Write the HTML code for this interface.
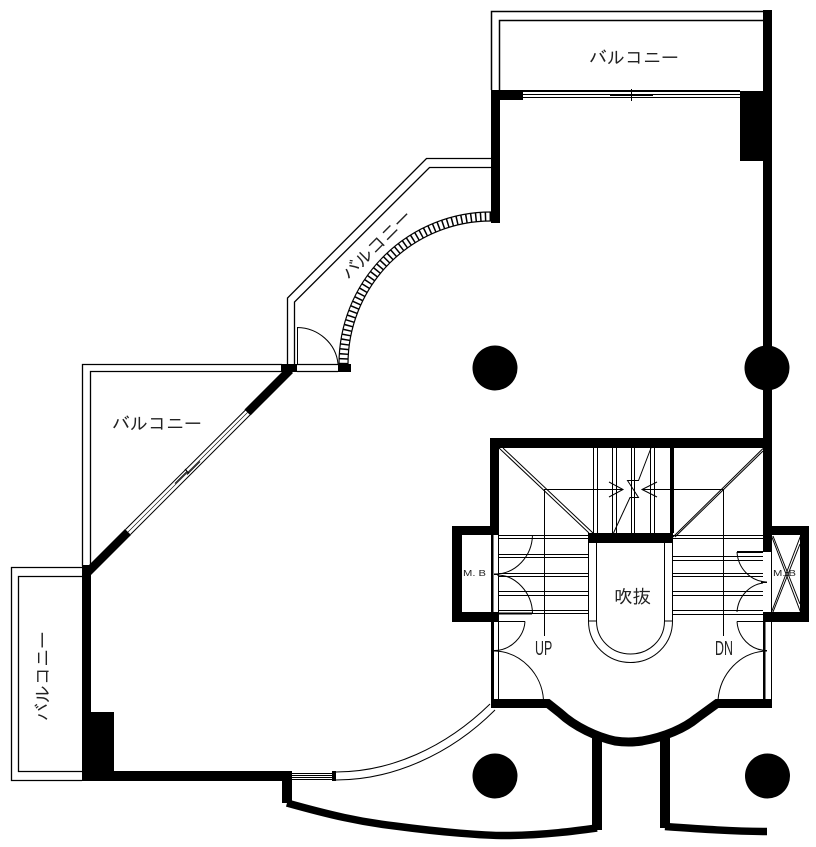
<!DOCTYPE html>
<html><head><meta charset="utf-8"><style>
html,body{margin:0;padding:0;background:#fff}
svg{display:block}
text{font-family:"IPAGothic","Noto Sans CJK JP",sans-serif;fill:#222}
.l text{font-family:"Liberation Sans",sans-serif}
</style></head><body>
<svg width="816" height="847" viewBox="0 0 816 847" xmlns="http://www.w3.org/2000/svg">
<rect width="816" height="847" fill="#fff"/>
<!-- thin lines -->
<g fill="none" stroke="#000" stroke-width="1">
<!-- top balcony -->
<path d="M763 11.5H491.5V90M763 20.5H499.5V90" stroke-width="1.5"/>
<!-- NW diagonal balcony -->
<path d="M491 158.5H426.5L287.5 298V364M491 167.5H429.5L294.5 302V364" stroke-width="1.3"/>
<!-- west balcony -->
<path d="M282 364.5H82.5V566M282 371.5H90.5L90.5 566" stroke-width="1.3"/>
<!-- SW balcony -->
<path d="M82 567.5H11.5V780.5H82M82 576.5H18.5V771.5H82" stroke-width="1.3"/>
<!-- small door in NW balcony -->
<path d="M297.5 364V327.5C318 328 336 343 338 364"/>
<path d="M297 364.5H338M297 371.5H338" stroke-width="1.3"/>
<!-- top window -->
<path d="M523 94.5H740M523 97.5H740"/>
<path d="M610 95.5H653M631.5 89V101"/>
<!-- SW curved glazing -->
<path d="M336 772C390 772 445 748 490 704M336 780C392 780 450 755 495 710"/>
<path d="M292 773.5H333M292 775.5H333M292 777.5H333M292 779.5H333"/>
<!-- stair shaft side walls -->
<path d="M498.5 535V700M771.5 552V612M771.5 622V700"/>
<!-- treads -->
<path d="M499 535.5H588M499 538.5H588M499 554.5H588M499 557.5H588M499 573.5H588M499 576.5H588M499 591.5H588M499 595.5H588M499 610.5H588M499 613.5H588"/>
<path d="M673 535.5H763M673 538.5H763M673 556.5H763M673 560.5H763M673 573.5H763M673 576.5H763M673 591.5H763M673 595.5H763M673 610.5H763M673 614.5H763"/>
<!-- upper flight verticals -->
<path d="M593.5 448V533M597.5 448V533M612.5 448V533M616.5 448V533M631.5 448V533M634.5 448V533M650.5 448V533M654.5 448V533"/>
<!-- diagonals -->
<path d="M499 448L589 533M503 448L593 533M763 448.5L673 537M763 451L675 537"/>
<!-- arrows -->
<path d="M544.5 636V489.5H623M609 482L623 489.5L609 497"/>
<path d="M723.5 636V489.5H642M657 482L642 489.5L657 497"/>
<path d="M651 448L638.5 480.5H627.5L638.5 497.5H630L613.5 533"/>
<!-- void -->
<path d="M588.5 542V621C588.5 645 608 662.5 630.5 662.5S672.5 645 672.5 621V542"/>
<path d="M596.5 542V621C596.5 640 612 654 630.5 654S664.5 640 664.5 621V542"/>
<path d="M589 621H597M664 621H672"/>
<!-- doors -->
<path d="M532.5 535C532 556 516 574 495 574M532.5 613C532 593 516 575 497 575"/>
<path d="M525 621.5C524 637 511 650 495 650.5M495 651C521 652 542 674 543.5 700"/>
<path d="M737 552C738 568 750 581 766 582M737 612C738 597 749 585 763 583"/>
<path d="M737 621.5C738 637 750 650 766 650.5M766 651C740 652 720 674 718 700"/>
<path d="M499 621.5H525M737 621.5H763"/>
<!-- MB X -->
<path d="M771.5 536L800.5 612M773 536L800 604M800.5 536L771.5 612M800 544L773 612"/>
</g>
<!-- black masses -->
<g fill="#000">
<rect x="763" y="10" width="9" height="542"/>
<rect x="491" y="90" width="9" height="133"/>
<rect x="491" y="90" width="32" height="10"/>
<rect x="523" y="90" width="217" height="2"/>
<rect x="740" y="91" width="32" height="70"/>
<rect x="338" y="364" width="13" height="8"/>
<rect x="281" y="364" width="16" height="8"/>
<rect x="82" y="565" width="9" height="216"/>
<rect x="82" y="712" width="32" height="69"/>
<rect x="82" y="771" width="210" height="10"/>
<rect x="332" y="771" width="4" height="10"/>
<rect x="282" y="771" width="10" height="32"/>
<!-- stair core -->
<rect x="490" y="438" width="282" height="10"/>
<rect x="490" y="438" width="9" height="97"/>
<rect x="452" y="526" width="47" height="9"/>
<rect x="452" y="526" width="10" height="96"/>
<rect x="452" y="612" width="47" height="10"/>
<rect x="763" y="526" width="46" height="9"/>
<rect x="800" y="526" width="9" height="96"/>
<rect x="763" y="612" width="46" height="10"/>
<rect x="588" y="533" width="85" height="10"/>
<rect x="670" y="448" width="4" height="85"/>
<rect x="491" y="535" width="2.5" height="77"/>
<rect x="491" y="622" width="3" height="78"/>
<rect x="763" y="622" width="2.5" height="78"/>
<rect x="592" y="738" width="10" height="92"/>
<rect x="660" y="738" width="10" height="90"/>
<rect x="737" y="551" width="26" height="2"/>
<rect x="499" y="612.5" width="33" height="2"/>
<rect x="494" y="573.5" width="5" height="1.5"/>
<rect x="761" y="581.5" width="6" height="1.5"/>
<rect x="494" y="650" width="5" height="1.5"/>
<rect x="763" y="650" width="4" height="1.5"/>
<circle cx="495" cy="368" r="22.5"/>
<circle cx="767" cy="368" r="22.5"/>
<circle cx="495" cy="776" r="22.5"/>
<circle cx="767.5" cy="776" r="22.5"/>
</g>
<g fill="none" stroke="#000">
<!-- diagonal wall -->
<path d="M290 370L247.5 412.500M128 532L87 573" stroke-width="8.5"/>
<!-- diagonal glazing -->
<path d="M245.500 410L125.500 529.500M250 415L130.500 534.500" stroke-width="1"/>
<path d="M247.500 412.500L187 473M187 473L128 532" stroke-width="0.6"/>
<path d="M187 471.500L175 483.500M187 474.500L200 461.500M185 469L189 473.500" stroke-width="1"/>
<!-- quarter ladder arc -->
<path d="M491 212A152 152 0 0 0 339 364M491 221A143 143 0 0 0 348 364" stroke-width="1.2"/>
<path d="M491 216.500A147.500 147.500 0 0 0 343.500 364" stroke-width="9" stroke-dasharray="1.500 3.300"/>
<!-- entrance curve -->
<path d="M491 703.500H548L560 713C575 727 597 737 615 741C625 742.500 632 742.500 642 741C665 737 685 728 697 718L717 703.500H772" stroke-width="9"/>
<!-- bottom walls -->
<path d="M287 803C330 815 360 822 395 826C440 832 485 836 510 835.500C545 835 575 831 597 828" stroke-width="7.500"/>
<path d="M665 826.500C700 829 735 831.500 767 831.500" stroke-width="7.500"/>
</g>
<!-- labels -->
<text x="589" y="64" font-size="18">バルコニー</text>
<text x="112" y="430" font-size="18">バルコニー</text>
<text font-size="18" text-anchor="middle" transform="translate(377 245) rotate(-45) translate(0 6)">バルコニー</text>
<text font-size="18" text-anchor="middle" transform="translate(43 676) rotate(-90) translate(0 6)">バルコニー</text>
<text x="614" y="603" font-size="18.500">吹抜</text>
<g class="l">
<text x="463" y="576" font-size="8.500" textLength="23" lengthAdjust="spacingAndGlyphs">M. B</text>
<text x="773" y="576" font-size="8.500" textLength="23" lengthAdjust="spacingAndGlyphs">M. B</text>
<text font-size="20" transform="translate(535 655) scale(0.62 1)">UP</text>
<text font-size="20" transform="translate(715 655) scale(0.62 1)">DN</text>
</g>
</svg>
</body></html>
